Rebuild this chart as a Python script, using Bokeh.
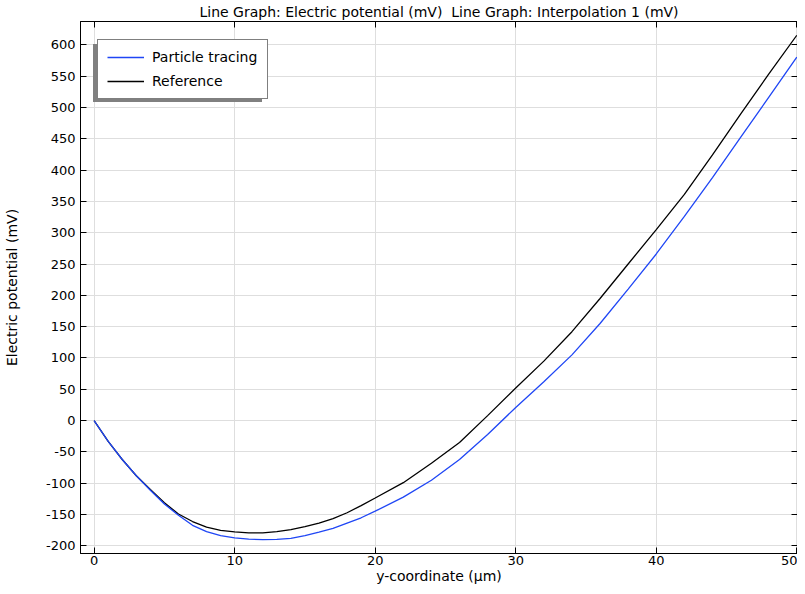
from bokeh.plotting import figure
from bokeh.models import Range1d, LinearAxis, FixedTicker, Legend, LegendItem
from bokeh.embed import file_html
from bokeh.resources import INLINE

# ---- data ----
y_particle = [0, 1, 2, 3, 4, 5, 6, 7, 8, 9, 10, 11, 12, 13, 14, 15, 16, 17, 18, 19, 20,
              22, 24, 26, 28, 30, 32, 34, 36, 38, 40, 42, 44, 46, 48, 50]
phi_particle = [0, -33, -62, -88, -111, -133, -151, -167, -177, -183.5, -187, -189, -190,
                -189.5, -188, -183.5, -178, -172, -163.5, -155, -144.5,
                -122, -95, -62, -22, 21, 62, 105, 155, 210, 266, 326, 388, 452, 516, 580]

y_reference = [0, 1, 2, 3, 4, 5, 6, 7, 8, 9, 10, 11, 12, 13, 14, 15, 16, 17, 18, 19, 20,
               22, 24, 26, 28, 30, 32, 34, 36, 38, 40, 42, 44, 46, 48, 50]
phi_reference = [0, -33, -62, -88, -110, -131, -149, -161, -170, -175, -177.5, -179, -179,
                 -177, -174, -169, -163.5, -156.5, -147, -135.5, -123.5,
                 -99, -68, -35, 8, 52, 95, 142, 195, 250, 305, 361, 424, 489, 553, 615]

x_ticks = [0, 10, 20, 30, 40, 50]
y_ticks = [-200, -150, -100, -50, 0, 50, 100, 150, 200, 250, 300, 350, 400, 450, 500, 550, 600]

title_text = "Line Graph: Electric potential (mV)\u00a0 Line Graph: Interpolation 1 (mV)"
x_label = "y-coordinate (µm)"
y_label = "Electric potential (mV)"
series_names = ["Particle tracing", "Reference"]

FONT = "DejaVu Sans"
FS_TICK = "13px"
FS = "14px"

p = figure(width=797, height=586,
           x_range=Range1d(-0.97, 50.05), y_range=Range1d(-212, 637),
           output_backend="svg", toolbar_location=None,
           min_border_left=73, min_border_right=0, min_border_top=0, min_border_bottom=0)

p.title.text = title_text
p.title.align = "center"
p.title.text_font = FONT
p.title.text_font_size = FS
p.title.text_font_style = "normal"
p.title.text_color = "black"
p.title.standoff = 3
p.title.offset = 0

p.background_fill_color = "white"
p.border_fill_color = "white"
p.outline_line_color = "black"
p.outline_line_width = 1

# axes
xa = p.xaxis[0]
ya = p.yaxis[0]
xa.ticker = FixedTicker(ticks=x_ticks)
ya.ticker = FixedTicker(ticks=y_ticks)
xa.major_label_overrides = {t: str(t) for t in x_ticks}
ya.major_label_overrides = {t: str(t) for t in y_ticks}
for ax in (xa, ya):
    ax.major_tick_in = 6
    ax.major_tick_out = 0
    ax.minor_tick_line_color = None
    ax.axis_line_color = "black"
    ax.major_tick_line_color = "black"
    ax.major_label_text_font = FONT
    ax.major_label_text_font_size = FS_TICK
    ax.major_label_text_color = "black"
    ax.axis_label_text_font = FONT
    ax.axis_label_text_font_size = FS
    ax.axis_label_text_font_style = "normal"
    ax.axis_label_text_color = "black"
xa.axis_label = x_label
ya.axis_label = y_label
xa.major_label_standoff = 2
xa.axis_label_standoff = 0
ya.major_label_standoff = 5
ya.axis_label_standoff = 23

top = LinearAxis(ticker=FixedTicker(ticks=x_ticks), major_tick_in=6, major_tick_out=0,
                 minor_tick_line_color=None, major_label_text_font_size="0px",
                 major_label_text_color=None,
                 major_label_standoff=0, axis_line_color="black")
right = LinearAxis(ticker=FixedTicker(ticks=y_ticks), major_tick_in=6, major_tick_out=0,
                   minor_tick_line_color=None, major_label_text_font_size="0px",
                   major_label_text_color=None,
                   major_label_standoff=0, axis_line_color="black")
p.add_layout(top, "above")
p.add_layout(right, "right")

p.xgrid.ticker = FixedTicker(ticks=x_ticks)
p.ygrid.ticker = FixedTicker(ticks=y_ticks)
p.grid.grid_line_color = "#dedede"
p.grid.grid_line_width = 1

r_ref = p.line(y_reference, phi_reference, line_color="black", line_width=1.3)
r_pt = p.line(y_particle, phi_particle, line_color="#1f46f5", line_width=1.3)

# legend shadow (drawn first) and legend
d1 = p.line([], [], line_alpha=0)
d2 = p.line([], [], line_alpha=0)
common = dict(padding=9, spacing=8, glyph_width=37, glyph_height=16, label_height=16,
              label_width=106, label_standoff=8, label_text_font=FONT,
              label_text_font_size=FS, border_line_width=1)
shadow = Legend(items=[LegendItem(label="\u00a0", renderers=[d1]),
                       LegendItem(label="\u00a0", renderers=[d2])],
                location=(13, 451), background_fill_color="#808080", background_fill_alpha=1,
                border_line_alpha=0, label_text_alpha=0, **common)
legend = Legend(items=[LegendItem(label=series_names[0], renderers=[r_pt]),
                       LegendItem(label=series_names[1], renderers=[r_ref])],
                location=(17, 454), background_fill_color="white", background_fill_alpha=1,
                border_line_color="black", label_text_color="black", **common)
p.add_layout(shadow, "center")
p.add_layout(legend, "center")

open("out.html", "w").write(file_html(p, INLINE))
